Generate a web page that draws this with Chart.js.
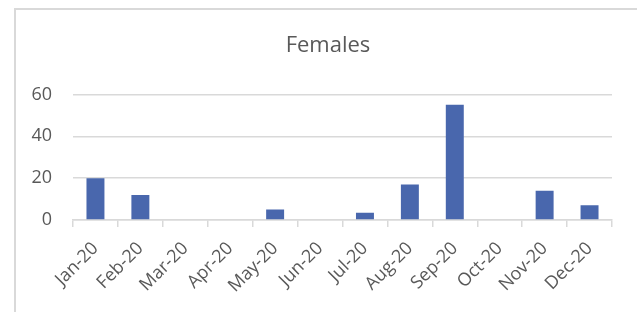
<!DOCTYPE html>
<html lang="en">
<head>
<meta charset="UTF-8">
<title>Females</title>
<script src="https://cdn.jsdelivr.net/npm/chart.js"></script>
<style>
  html, body {
    margin: 0;
    padding: 0;
    background: #fff;
    overflow: hidden;
  }
  .frame {
    position: absolute;
    left: 14px;
    top: 8px;
    width: 700px;
    height: 400px;
    border: 2px solid #d9d9d9;
  }
  .wrap {
    position: absolute;
    left: 0;
    top: 0;
    width: 637px;
    height: 312px;
  }
</style>
</head>
<body>

<div class="frame"></div>
<div class="wrap"><canvas id="chart"></canvas></div>

<script>
const months = ['Jan-20', 'Feb-20', 'Mar-20', 'Apr-20', 'May-20', 'Jun-20',
                'Jul-20', 'Aug-20', 'Sep-20', 'Oct-20', 'Nov-20', 'Dec-20'];
const females = [20, 12, 0, 0, 5, 0, 3.5, 17, 55, 0, 14, 7];
const yTicks = [0, 20, 40, 60];

const textColor = '#595959';
const lineColor = '#d9d9d9';

// the title is centred on the outer frame, not the plot, so nudge its box right
const shiftTitle = {
  id: 'shiftTitle',
  afterLayout(chart) {
    if (chart.titleBlock) chart.titleBlock.left += 25;
  }
};

new Chart(document.getElementById('chart'), {
  type: 'bar',
  data: {
    labels: months,
    datasets: [{
      label: 'Females',
      data: females,
      backgroundColor: '#4967ad',
      barPercentage: 0.4,
      categoryPercentage: 1
    }]
  },
  options: {
    responsive: true,
    maintainAspectRatio: false,
    animation: false,
    layout: { padding: { left: 19, right: 25, top: 0, bottom: 0 } },
    plugins: {
      legend: { display: false },
      tooltip: { enabled: false },
      title: {
        display: true,
        text: 'Females',
        color: textColor,
        font: { family: 'Open Sans', size: 22, weight: 'normal' },
        padding: { top: 33, bottom: 35 }
      }
    },
    scales: {
      x: {
        afterFit: s => { s.height = 92; },
        grid: {
          offset: true,
          drawOnChartArea: false,
          drawTicks: true,
          tickLength: 7,
          color: lineColor,
          lineWidth: 1.5
        },
        border: { color: lineColor, width: 1.5 },
        ticks: {
          color: textColor,
          font: { family: 'Open Sans', size: 18 },
          minRotation: 45,
          maxRotation: 45,
          padding: 11,
          autoSkip: false
        }
      },
      y: {
        min: 0,
        max: 60,
        afterFit: s => { s.width = 54; },
        afterBuildTicks: s => { s.ticks = yTicks.map(v => ({ value: v })); },
        grid: { color: lineColor, lineWidth: 1.5, drawTicks: false },
        border: { display: false },
        ticks: {
          color: textColor,
          font: { family: 'Open Sans', size: 18 },
          padding: 21
        }
      }
    }
  },
  plugins: [shiftTitle]
});
</script>

</body>
</html>
